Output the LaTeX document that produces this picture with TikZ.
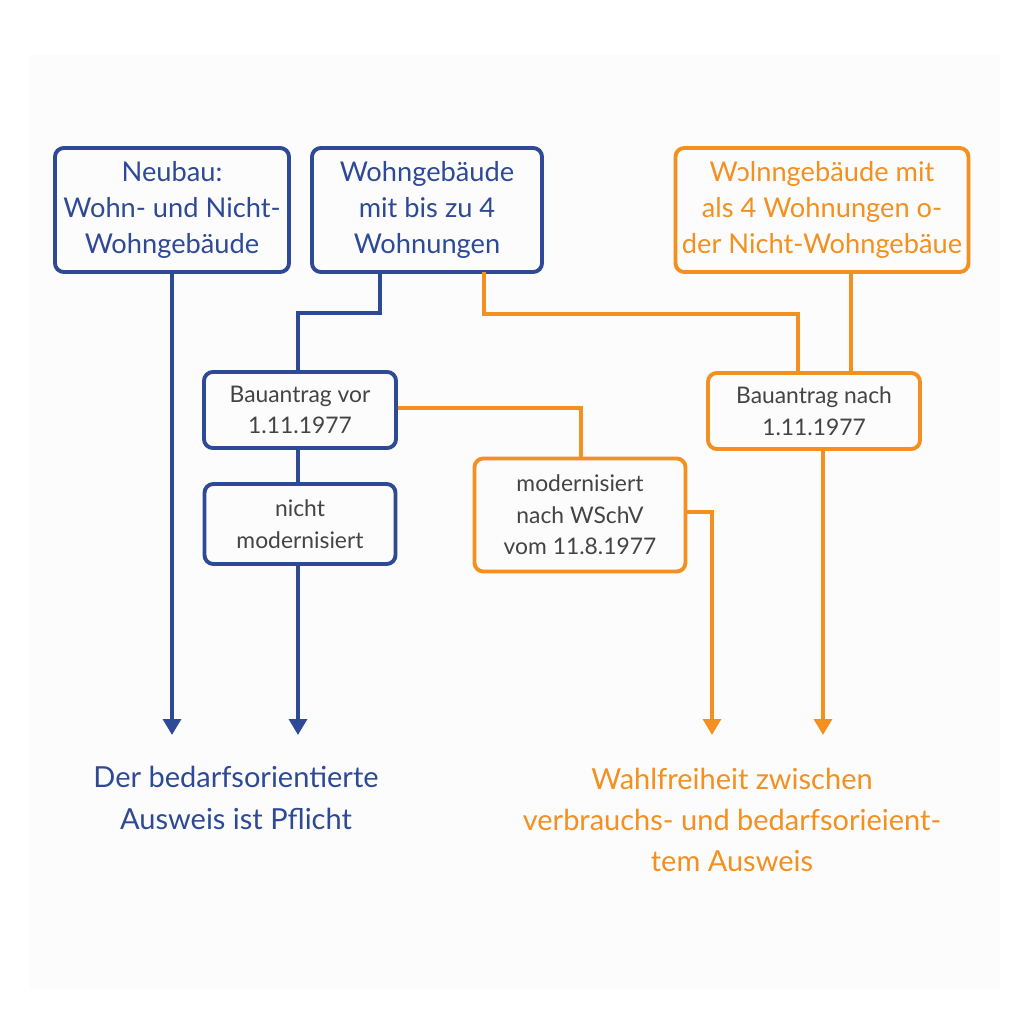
\documentclass[tikz,border=0pt]{standalone}
\usepackage{fontspec}
\setmainfont{Lato}
\usetikzlibrary{arrows.meta}
\definecolor{bl}{HTML}{2E4A96}
\definecolor{og}{HTML}{F39020}
\definecolor{tx}{HTML}{444444}
\begin{document}
\begin{tikzpicture}[x=0.02cm,y=-0.02cm,
 box/.style={line width=2.2pt,rounded corners=5pt,inner sep=0pt,align=center},
 big/.style={font=\fontsize{15.5}{20.5}\selectfont},
 small/.style={font=\fontsize{13}{18}\selectfont,text=tx},
 con/.style={line width=2.2pt},
 arr/.style={con,-{Triangle[length=9pt,width=10pt]}}]
\useasboundingbox (0,0) rectangle (1024,1024);
\fill[white] (0,0) rectangle (1024,1024);
\fill[black!1] (30,55) rectangle (1000,990);
\node[box,big,draw=bl,text=bl,minimum width=234*0.02cm,minimum height=124*0.02cm] (A) at (172,210) {Neubau:\\Wohn- und Nicht-\\Wohngebäude};
\node[box,big,draw=bl,text=bl,minimum width=230*0.02cm,minimum height=124*0.02cm] (B) at (427,210) {Wohngebäude\\mit bis zu 4\\Wohnungen};
\node[box,big,draw=og,text=og,minimum width=293*0.02cm,minimum height=124*0.02cm] (C) at (822,210) {Wɔlnngebäude mit\\als 4 Wohnungen o-\\der Nicht-Wohngebäue};
\node[box,small,draw=bl,minimum width=192*0.02cm,minimum height=76*0.02cm] (D) at (300,410) {Bauantrag vor\\1.11.1977};
\node[box,small,draw=bl,minimum width=191*0.02cm,minimum height=80*0.02cm] (E) at (300,524) {nicht\\modernisiert};
\node[box,small,draw=og,minimum width=211*0.02cm,minimum height=113*0.02cm] (F) at (580,515) {modernisiert\\nach WSchV\\vom 11.8.1977};
\node[box,small,draw=og,minimum width=212*0.02cm,minimum height=76*0.02cm] (G) at (814,411) {Bauantrag nach\\1.11.1977};
\node[bl,align=center,font=\fontsize{16.5}{23.5}\selectfont] (T1) at (236,798) {Der bedarfsorientierte\\Ausweis ist Pflicht};
\node[og,align=center,font=\fontsize{16.5}{23.5}\selectfont] (T2) at (732,820) {Wahlfreiheit zwischen\\verbrauchs- und bedarfsorieient-\\tem Ausweis};
\coordinate (a1) at (172,735); \coordinate (a2) at (298,735);
\coordinate (a3) at (712,735); \coordinate (a4) at (823,735);
\draw[arr,bl] (A.south -| a1) -- (a1);
\draw[con,bl] (380,272) |- (298,313) -- (D.north -| 298,0);
\draw[con,bl] (D.south -| 298,0) -- (E.north -| 298,0);
\draw[arr,bl] (E.south -| a2) -- (a2);
\draw[con,og] (484,272) |- (798,314) -- (G.north -| 798,0);
\draw[con,og] (C.south -| 851,0) -- (G.north -| 851,0);
\draw[con,og] (D.east |- 0,408) -| (F.north -| 581,0);
\draw[arr,og] (F.east |- 0,512) -| (a3);
\draw[arr,og] (G.south -| a4) -- (a4);
\end{tikzpicture}
\end{document}
